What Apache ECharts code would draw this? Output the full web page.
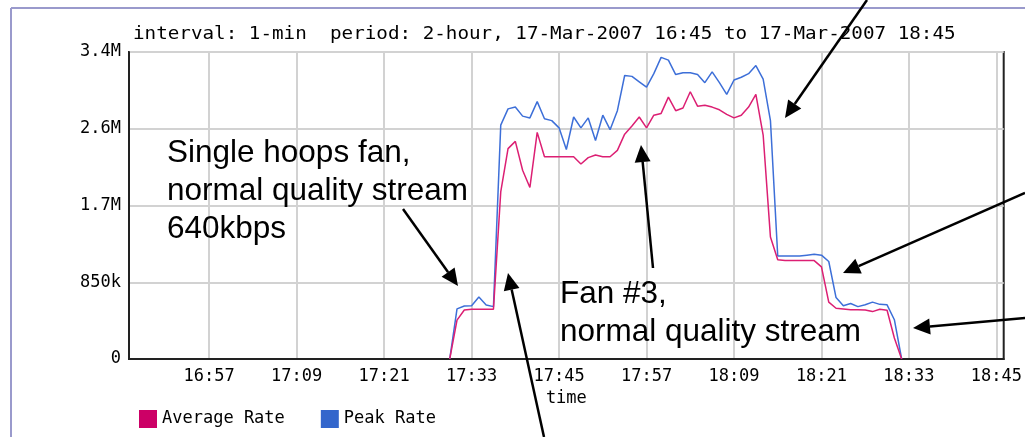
<!DOCTYPE html>
<html>
<head>
<meta charset="utf-8">
<script src="https://cdn.jsdelivr.net/npm/echarts@6/dist/echarts.min.js"></script>
<style>
  html, body { margin: 0; padding: 0; background: #fff; }
  #main { width: 1025px; height: 437px; }
</style>
</head>
<body>
<div id="main"></div>
<script>
// 1-min samples, 17:30 .. 18:32
var firstSample = '17:30';
var peakRate = [
  0, 555000, 587000, 590000, 687000, 598000, 580000,
  2590000, 2770000, 2790000, 2690000, 2670000, 2850000, 2660000, 2640000,
  2560000, 2320000, 2680000, 2560000, 2670000, 2420000, 2700000, 2540000,
  2750000, 3140000, 3130000, 3070000, 3010000, 3160000, 3340000, 3310000,
  3150000, 3170000, 3170000, 3150000, 3060000, 3180000, 3060000, 2930000,
  3090000, 3120000, 3160000, 3250000, 3100000, 2640000,
  1140000, 1140000, 1140000, 1140000, 1150000, 1160000, 1150000, 1080000,
  680000, 590000, 615000, 580000, 600000, 630000, 605000, 600000, 435000, 0
];
var avgRate = [
  0, 430000, 543000, 551000, 551000, 551000, 551000,
  1850000, 2330000, 2410000, 2090000, 1900000, 2510000, 2240000, 2240000,
  2240000, 2240000, 2240000, 2160000, 2230000, 2260000, 2240000, 2240000,
  2310000, 2490000, 2580000, 2680000, 2560000, 2700000, 2720000, 2900000,
  2750000, 2780000, 2960000, 2800000, 2810000, 2790000, 2760000, 2710000,
  2670000, 2700000, 2790000, 2930000, 2480000, 1350000,
  1100000, 1090000, 1090000, 1090000, 1090000, 1090000, 1020000, 630000,
  562000, 555000, 545000, 545000, 543000, 525000, 550000, 540000, 232000, 0
];
var yTickValues = [0, 850000, 1700000, 2550000, 3400000];
var yTickLabels = ['0', '850k', '1.7M', '2.6M', '3.4M'];
var xTickLabels = ['16:57', '17:09', '17:21', '17:33', '17:45', '17:57', '18:09', '18:21', '18:33', '18:45'];

// minute categories of the 2-hour window
function pad(n) { return (n < 10 ? '0' : '') + n; }
var minutes = [];
for (var t = 16 * 60 + 46; t <= 18 * 60 + 46; t++) {
  minutes.push(pad(Math.floor(t / 60)) + ':' + pad(t % 60));
}
var off = minutes.indexOf(firstSample);
function toPairs(arr) {
  return arr.map(function (v, i) { return [minutes[off + i], v]; });
}
function isTick(i) { return xTickLabels.indexOf(minutes[i]) >= 0; }

var mono = '"DejaVu Sans Mono", monospace';
var sans = '"Liberation Sans", Arial, sans-serif';

// arrow = line + filled head
function arrow(x1, y1, x2, y2) {
  var a = Math.atan2(y2 - y1, x2 - x1), L = 17, W = 8;
  var bx = x2 - L * Math.cos(a), by = y2 - L * Math.sin(a);
  return [
    { type: 'line', silent: true, z: 100,
      shape: { x1: x1, y1: y1, x2: bx, y2: by },
      style: { stroke: '#000', lineWidth: 2.5 } },
    { type: 'polygon', silent: true, z: 100,
      shape: { points: [[x2, y2], [bx + W * Math.sin(a), by - W * Math.cos(a)], [bx - W * Math.sin(a), by + W * Math.cos(a)]] },
      style: { fill: '#000' } }
  ];
}

var graphics = [
  { type: 'line', shape: { x1: 11, y1: 8, x2: 1025, y2: 8 }, style: { stroke: '#9a9acc', lineWidth: 2 } },
  { type: 'line', shape: { x1: 11, y1: 8, x2: 11, y2: 437 }, style: { stroke: '#9a9acc', lineWidth: 2 } },
  { type: 'text', x: 133, y: 35, scaleX: 1.132,
    style: { text: 'interval: 1-min  period: 2-hour, 17-Mar-2007 16:45 to 17-Mar-2007 18:45',
             font: '17px ' + mono, fill: '#000', verticalAlign: 'middle' } },
  { type: 'text', x: 167, y: 134, z: 100,
    style: { text: 'Single hoops fan,\nnormal quality stream\n640kbps', font: '31.5px ' + sans,
             fill: '#000', lineHeight: 38, verticalAlign: 'top' } },
  { type: 'text', x: 560, y: 275, z: 100,
    style: { text: 'Fan #3,\nnormal quality stream', font: '31.5px ' + sans,
             fill: '#000', lineHeight: 38, verticalAlign: 'top' } }
]
  .concat(arrow(867, 0, 785, 118))
  .concat(arrow(403, 209, 458, 286))
  .concat(arrow(544, 437, 508, 273))
  .concat(arrow(653, 268, 641, 145))
  .concat(arrow(1025, 193, 843, 273))
  .concat(arrow(1025, 318, 913, 328));

var myChart = echarts.init(document.getElementById('main'));
var option = {
  animation: false,
  backgroundColor: '#fff',
  grid: { left: 129, right: 17, top: 52, bottom: 78, show: true, borderColor: '#222', borderWidth: 2 },
  legend: {
    left: 134, top: 405, icon: 'rect', itemWidth: 18, itemHeight: 18, itemGap: 36,
    selectedMode: false,
    data: ['Average Rate', 'Peak Rate'],
    textStyle: { fontFamily: mono, fontSize: 17, color: '#000' }
  },
  xAxis: {
    type: 'category', boundaryGap: false, data: minutes,
    name: 'time', nameLocation: 'middle', nameGap: 27,
    nameTextStyle: { fontFamily: mono, fontSize: 17, color: '#000' },
    axisLine: { lineStyle: { color: '#222', width: 2 } },
    axisTick: { show: false },
    axisLabel: { interval: function (i) { return isTick(i); }, margin: 9,
                 fontFamily: mono, fontSize: 17, color: '#000' },
    splitLine: { show: true, interval: function (i) { return isTick(i); },
                 lineStyle: { color: '#d2d2d2', width: 2 } }
  },
  yAxis: {
    type: 'value', min: 0, max: 3400000, interval: 850000,
    axisLine: { show: true, lineStyle: { color: '#222', width: 2 } },
    axisTick: { show: false },
    axisLabel: { margin: 8, fontFamily: mono, fontSize: 17, color: '#000',
                 formatter: function (v) { return yTickLabels[yTickValues.indexOf(v)]; } },
    splitLine: { lineStyle: { color: '#d2d2d2', width: 2 } }
  },
  series: [
    { name: 'Peak Rate', type: 'line', data: toPairs(peakRate), showSymbol: false,
      itemStyle: { color: '#3366cc' }, lineStyle: { color: '#3d6fd8', width: 1.5 } },
    { name: 'Average Rate', type: 'line', data: toPairs(avgRate), showSymbol: false,
      itemStyle: { color: '#cc0066' }, lineStyle: { color: '#dc1f73', width: 1.5 } }
  ],
  graphic: graphics
};
myChart.setOption(option);
</script>
</body>
</html>
